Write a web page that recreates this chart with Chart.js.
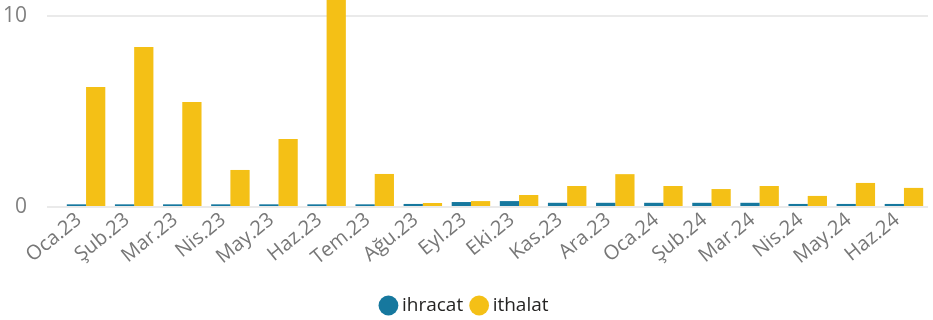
<!DOCTYPE html>
<html>
<head>
<meta charset="utf-8">
<script src="https://cdn.jsdelivr.net/npm/chart.js@4/dist/chart.umd.min.js"></script>
<style>
  html, body { margin: 0; padding: 0; background: #fff; overflow: hidden; }
  #wrap { width: 933px; height: 320px; position: relative; }
</style>
</head>
<body>
<div id="wrap"><canvas id="tradeChart"></canvas></div>
<script>
var months = ["Oca.23", "Şub.23", "Mar.23", "Nis.23", "May.23", "Haz.23", "Tem.23", "Ağu.23", "Eyl.23",
    "Eki.23", "Kas.23", "Ara.23", "Oca.24", "Şub.24", "Mar.24", "Nis.24", "May.24", "Haz.24"];
var ihracat = [0.14, 0.14, 0.14, 0.14, 0.14, 0.14, 0.14, 0.16, 0.26, 0.31, 0.22, 0.22, 0.22, 0.22, 0.22, 0.16, 0.16, 0.16];
var ithalat = [6.28, 8.38, 5.5, 1.94, 3.56, 11.6, 1.73, 0.21, 0.31, 0.63, 1.1, 1.72, 1.1, 0.94, 1.1, 0.58, 1.26, 1.0];
var yTicks = [0, 10];

var fontFamily = "'Open Sans', 'Noto Sans', sans-serif";

// drop the edge padding chart.js reserves for rotated / end labels
function noEdgePadding(axis) {
    axis.paddingLeft = 0;
    axis.paddingRight = 0;
    axis.paddingTop = 0;
    axis.paddingBottom = 0;
}

var ctx = document.getElementById("tradeChart").getContext("2d");
window.tradeChart = new Chart(ctx, {
    type: "bar",
    data: {
        labels: months,
        datasets: [{
            label: "ihracat",
            data: ihracat,
            backgroundColor: "#16789e"
        }, {
            label: "ithalat",
            data: ithalat,
            backgroundColor: "#f4c016"
        }]
    },
    options: {
        responsive: true,
        maintainAspectRatio: false,
        animation: false,
        layout: { padding: { left: 5, right: 5, top: 0, bottom: -5 } },
        datasets: { bar: { categoryPercentage: 0.8, barPercentage: 1.0 } },
        scales: {
            x: {
                afterFit: function(axis) {
                    noEdgePadding(axis);
                    axis.height = 77;
                },
                grid: { display: false, drawTicks: false },
                border: { display: false },
                ticks: {
                    minRotation: 39,
                    maxRotation: 39,
                    autoSkip: false,
                    padding: 1,
                    labelOffset: -7,
                    color: "#777",
                    font: { family: fontFamily, size: 20 }
                }
            },
            y: {
                min: 0,
                max: 10.84,
                afterBuildTicks: function(axis) {
                    axis.ticks = yTicks.map(function(v) { return { value: v }; });
                },
                afterFit: function(axis) {
                    noEdgePadding(axis);
                    axis.width = 57;
                },
                border: { display: false },
                grid: { color: "#eaeaea", lineWidth: 2, drawTicks: true, tickLength: 15 },
                ticks: {
                    padding: 20,
                    color: "#808080",
                    font: { family: fontFamily, size: 21 }
                }
            }
        },
        plugins: {
            tooltip: { enabled: false },
            legend: {
                position: "bottom",
                labels: {
                    usePointStyle: true,
                    pointStyle: "circle",
                    boxWidth: 8,
                    boxHeight: 14,
                    padding: 12,
                    color: "#252423",
                    font: { family: fontFamily, size: 19 }
                }
            }
        }
    }
});
</script>
</body>
</html>
